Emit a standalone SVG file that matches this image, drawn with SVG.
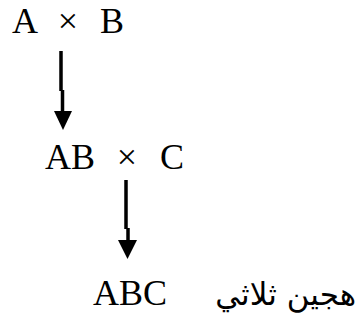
<svg xmlns="http://www.w3.org/2000/svg" width="361" height="325" viewBox="0 0 361 325">
<style>
.lat{font-family:"Liberation Serif","Times New Roman",serif;font-size:36px;fill:#000}
.ar{font-family:"DejaVu Sans",sans-serif;font-size:31px;fill:#000}
.shaft{stroke:#000;stroke-width:3.5;fill:none}
.head{fill:#000}
</style>
<rect width="361" height="325" fill="#fff"/>
<g id="cross1">
<text class="lat" x="12" y="33">A</text>
<text class="lat" x="68" y="33" text-anchor="middle">×</text>
<text class="lat" x="100" y="33">B</text>
</g>
<g id="cross2">
<text class="lat" x="45" y="169">AB</text>
<text class="lat" x="127" y="169" text-anchor="middle">×</text>
<text class="lat" x="160" y="169">C</text>
</g>
<g id="result">
<text class="lat" x="93" y="305">ABC</text>
<text class="ar" x="356" y="305" text-anchor="end">هجين ثلاثي</text>
</g>
<g id="connectors">
<path class="shaft" d="M61,51 V91 M62.5,90 V113"/>
<polygon class="head" points="54,111 72,111 63,130"/>
<path class="shaft" d="M126,180 V229 M128,228 V242"/>
<polygon class="head" points="118,240 137,240 127.5,259"/>
</g>
</svg>
